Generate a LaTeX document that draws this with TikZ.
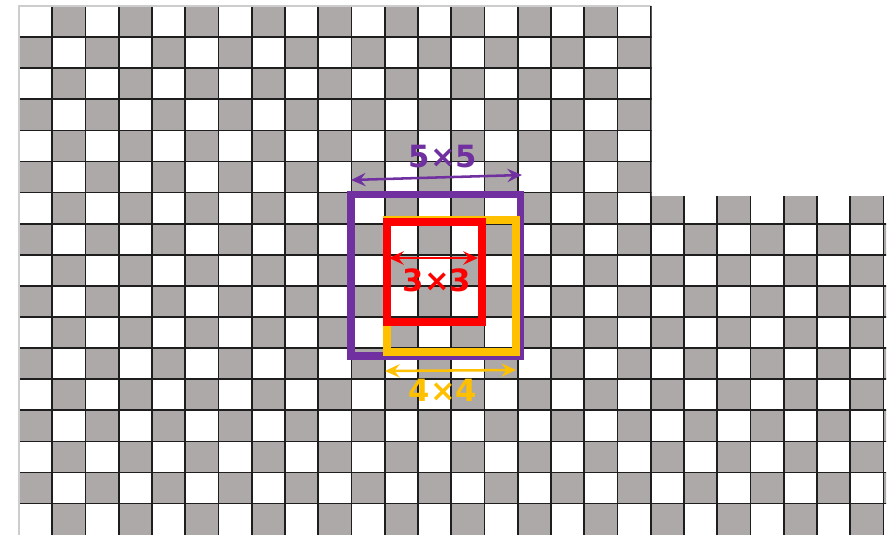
\documentclass[tikz,border=0pt]{standalone}
\usepackage{fontspec}
\setmainfont{DejaVu Sans}
\usepackage{tikz}
\usetikzlibrary{arrows.meta}
\definecolor{cellgrey}{RGB}{173,169,169}
\definecolor{gridline}{RGB}{30,30,30}
\definecolor{edgegrey}{RGB}{205,205,205}
\definecolor{kpurple}{RGB}{112,48,160}
\definecolor{kred}{RGB}{255,0,0}
\definecolor{kyellow}{RGB}{255,192,0}
\tikzset{
  cell/.style={fill=cellgrey},
  gridln/.style={draw=gridline,line width=1.3pt},
  win/.style={line width=5.8pt},
  span/.style={{Stealth[length=11pt,width=10pt,inset=4pt]}-{Stealth[length=11pt,width=10pt,inset=4pt]},
               line width=1.9pt},
  sizelbl/.style={font=\bfseries\fontsize{23}{25}\selectfont,inner sep=0pt},
}

\begin{document}
\begin{tikzpicture}[x=0.75pt,y=-0.75pt]
  \useasboundingbox (0,0) rectangle (889,535);

  % checkerboard, L-shaped
  \begin{scope}
    \clip (19,6) -- (651.5,6) -- (651.5,196) -- (886,196) -- (886,535) -- (19,535) -- cycle;
    \foreach \r in {0,...,16}
      \foreach \c in {0,...,26}{
        \pgfmathtruncatemacro\odd{mod(\r+\c,2)}
        \ifnum\odd=1 \fill[cell] ({19+\c*33.25},{6+\r*31.1}) rectangle +(33.25,31.1); \fi
      }
    \foreach \c in {1,...,26} \draw[gridln] ({19+\c*33.25},0) -- ++(0,540);
    \foreach \r in {1,...,16} \draw[gridln] (0,{6+\r*31.1}) -- ++(890,0);
  \end{scope}
  \draw[edgegrey,line width=1pt] (19,535) -- (19,6) -- (650,6);

  % windows
  \coordinate (w5a) at (351,194.5);   \coordinate (w5b) at (520.5,356);
  \coordinate (w4a) at (387,219.5);   \coordinate (w4b) at (516,352);
  \coordinate (w3a) at (387,222);     \coordinate (w3b) at (482,322);
  \draw[kpurple,win] (w5a) rectangle (w5b);
  \draw[kyellow,win,line width=6pt] (w4a) rectangle (w4b);
  \draw[kred,win,line width=6.4pt] (w3a) rectangle (w3b);

  % spans and labels
  \coordinate (s5a) at (351,180);  \coordinate (s5b) at (522,175);
  \coordinate (s3a) at (389,258);  \coordinate (s3b) at (478,258);
  \coordinate (s4a) at (385,371);  \coordinate (s4b) at (516,370);
  \draw[span,kpurple] (s5a) -- (s5b);
  \draw[span,kred] (s3a) -- (s3b);
  \draw[span,kyellow] (s4a) -- (s4b);
  \node[sizelbl,text=kpurple] (l5) at (443,157) {5×5};
  \node[sizelbl,text=kred]    (l3) at (437,280) {3×3};
  \node[sizelbl,text=kyellow] (l4) at (443,390) {4×4};
\end{tikzpicture}
\end{document}
